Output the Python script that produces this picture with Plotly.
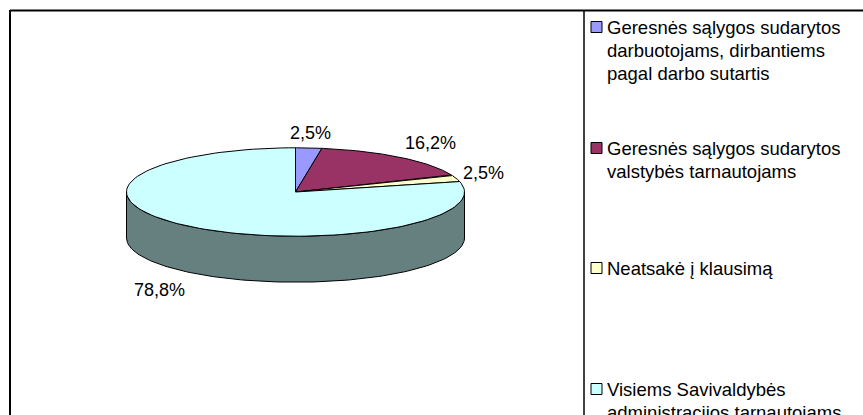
import numpy as np
import plotly.graph_objects as go

# duomenys
categories = [
    ["Geresnės sąlygos sudarytos", "darbuotojams, dirbantiems", "pagal darbo sutartis"],
    ["Geresnės sąlygos sudarytos", "valstybės tarnautojams"],
    ["Neatsakė į klausimą"],
    ["Visiems Savivaldybės", "administracijos tarnautojams"],
]
values = [2.5, 16.2, 2.5, 78.8]
top_colors = ["#9999FF", "#993366", "#FFFFCC", "#CCFFFF"]
wall_colors = ["#4D4D80", "#4D1A33", "#808066", "#668080"]

# layout of the tilted pie, in page pixels
CX, CY = 295.5, 192
RX, RY = 169, 44.2
DEPTH = 46

label_pos = [(310, 133), (430.5, 143), (483, 173), (159.5, 290)]
legend_y = [27, 148, 268, 389]
LEGEND_X = 605
LINE_H = 23
FONT = "Liberation Sans, Arial, sans-serif"

fig = go.Figure()


def rim(a0, a1, n=120, drop=0):
    # points on the ellipse, angle measured clockwise from the top
    t = np.linspace(a0, a1, n)
    return CX + RX * np.sin(t), CY - RY * np.cos(t) + drop


# slice angles from the values
total = sum(values)
edges = 2 * np.pi * np.cumsum([0] + values) / total

# side wall first, only the front half can be seen
for i in range(len(values)):
    a0 = max(edges[i], np.pi / 2)
    a1 = min(edges[i + 1], 3 * np.pi / 2)
    if a1 <= a0:
        continue
    x_top, y_top = rim(a0, a1)
    x_low, y_low = rim(a1, a0, drop=DEPTH)
    fig.add_trace(go.Scatter(
        x=np.concatenate([x_top, x_low, x_top[:1]]),
        y=np.concatenate([y_top, y_low, y_top[:1]]),
        mode="lines", fill="toself", fillcolor=wall_colors[i],
        line=dict(color="black", width=1), hoverinfo="skip",
    ))

# top face
for i in range(len(values)):
    x_arc, y_arc = rim(edges[i], edges[i + 1])
    fig.add_trace(go.Scatter(
        x=np.concatenate([[CX], x_arc, [CX]]),
        y=np.concatenate([[CY], y_arc, [CY]]),
        mode="lines", fill="toself", fillcolor=top_colors[i],
        line=dict(color="black", width=1), hoverinfo="skip",
    ))

annotations = []
for v, (lx, ly) in zip(values, label_pos):
    annotations.append(dict(
        x=lx, y=ly, text=f"{v:.1f}%".replace(".", ","), showarrow=False,
        xanchor="center", yanchor="middle", font=dict(family=FONT, size=18, color="black"),
    ))

shapes = [
    # frame of the chart, it runs past the right and bottom of the picture
    dict(type="line", x0=10, x1=863, y0=10.5, y1=10.5, line=dict(color="black", width=2)),
    dict(type="line", x0=10, x1=10, y0=10, y1=415, line=dict(color="black", width=2)),
    dict(type="line", x0=584, x1=584, y0=10, y1=415, line=dict(color="black", width=1.5)),
]

# legend
for i, lines in enumerate(categories):
    for j, line in enumerate(lines):
        annotations.append(dict(
            x=LEGEND_X, y=legend_y[i] + j * LINE_H, text=line, showarrow=False,
            xanchor="left", yanchor="middle", font=dict(family=FONT, size=18.5, color="black"),
        ))
    shapes.append(dict(
        type="rect", x0=591, x1=602, y0=legend_y[i] - 5.5, y1=legend_y[i] + 5.5,
        fillcolor=top_colors[i], line=dict(color="black", width=1),
    ))

fig.update_layout(
    width=863, height=415,
    margin=dict(l=0, r=0, t=0, b=0),
    paper_bgcolor="white", plot_bgcolor="white",
    showlegend=False,
    xaxis=dict(range=[0, 863], visible=False),
    yaxis=dict(range=[415, 0], visible=False),
    annotations=annotations,
    shapes=shapes,
)

# the page has a default body margin that would push the chart 8px in
fig.write_html("out.html", config=dict(displayModeBar=False),
               post_script="document.body.style.margin='0';document.body.style.overflow='hidden';")
